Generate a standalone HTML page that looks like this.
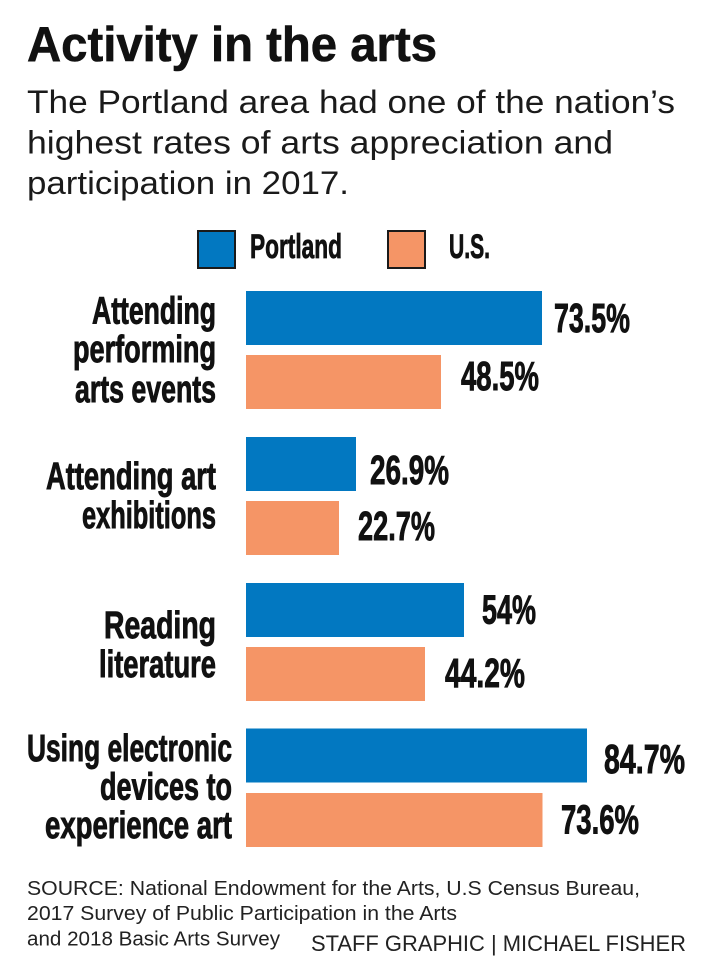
<!DOCTYPE html>
<html>
<head>
<meta charset="utf-8">
<style>
  html, body { margin: 0; padding: 0; background: #ffffff; }
  body { width: 702px; height: 965px; overflow: hidden; }
  svg { display: block; }
  .title { font-family: "Liberation Sans", sans-serif; font-weight: 700; font-size: 49px; fill: #111; stroke: #111; stroke-width: 0.6; }
  .sub { font-family: "Liberation Sans", sans-serif; font-weight: 400; font-size: 32px; fill: #1a1a1a; }
  .lab { font-family: "Liberation Sans", sans-serif; font-weight: 700; font-size: 38px; fill: #111; stroke: #111; stroke-width: 0.9; }
  .val { font-family: "Liberation Sans", sans-serif; font-weight: 700; font-size: 41px; fill: #111; stroke: #111; stroke-width: 0.9; }
  .leg { font-family: "Liberation Sans", sans-serif; font-weight: 700; font-size: 34px; fill: #111; stroke: #111; stroke-width: 0.8; }
  .src { font-family: "Liberation Sans", sans-serif; font-weight: 400; font-size: 20.5px; fill: #222; }
  .staff { font-family: "Liberation Sans", sans-serif; font-weight: 400; font-size: 22.5px; fill: #222; }
</style>
</head>
<body>
<svg width="702" height="965" viewBox="0 0 702 965" xmlns="http://www.w3.org/2000/svg">
  <rect x="0" y="0" width="702" height="965" fill="#ffffff"/>

  <!-- Title -->
  <text class="title" x="27" y="61" textLength="410" lengthAdjust="spacingAndGlyphs">Activity in the arts</text>

  <!-- Subtitle -->
  <text class="sub" x="27" y="113" textLength="648" lengthAdjust="spacingAndGlyphs">The Portland area had one of the nation’s</text>
  <text class="sub" x="27" y="153.5" textLength="586" lengthAdjust="spacingAndGlyphs">highest rates of arts appreciation and</text>
  <text class="sub" x="27" y="194" textLength="322" lengthAdjust="spacingAndGlyphs">participation in 2017.</text>

  <!-- Legend -->
  <rect x="198" y="231" width="37" height="37" fill="#0278c1" stroke="#1a1a1a" stroke-width="2"/>
  <text class="leg" x="250" y="258" textLength="92" lengthAdjust="spacingAndGlyphs">Portland</text>
  <rect x="388" y="231" width="37" height="37" fill="#f59566" stroke="#1a1a1a" stroke-width="2"/>
  <text class="leg" x="449" y="258" textLength="41" lengthAdjust="spacingAndGlyphs">U.S.</text>

  <!-- Bars -->
  <rect x="246" y="291" width="296" height="54" fill="#0278c1"/>
  <rect x="246" y="355" width="195" height="54" fill="#f59566"/>
  <rect x="246" y="437" width="110" height="54" fill="#0278c1"/>
  <rect x="246" y="501" width="93" height="54" fill="#f59566"/>
  <rect x="246" y="583" width="218" height="54" fill="#0278c1"/>
  <rect x="246" y="647" width="179" height="54" fill="#f59566"/>
  <rect x="246" y="728.5" width="341" height="54" fill="#0278c1"/>
  <rect x="246" y="793" width="296.5" height="54" fill="#f59566"/>

  <!-- Value labels -->
  <text class="val" x="554" y="332" textLength="76" lengthAdjust="spacingAndGlyphs">73.5%</text>
  <text class="val" x="461" y="390" textLength="78" lengthAdjust="spacingAndGlyphs">48.5%</text>
  <text class="val" x="370" y="484" textLength="79" lengthAdjust="spacingAndGlyphs">26.9%</text>
  <text class="val" x="358" y="540" textLength="77" lengthAdjust="spacingAndGlyphs">22.7%</text>
  <text class="val" x="482" y="623.5" textLength="54" lengthAdjust="spacingAndGlyphs">54%</text>
  <text class="val" x="445" y="687" textLength="80" lengthAdjust="spacingAndGlyphs">44.2%</text>
  <text class="val" x="604" y="773" textLength="81" lengthAdjust="spacingAndGlyphs">84.7%</text>
  <text class="val" x="561" y="833.5" textLength="78" lengthAdjust="spacingAndGlyphs">73.6%</text>

  <!-- Category labels -->
  <text class="lab" x="92" y="323.5" textLength="124" lengthAdjust="spacingAndGlyphs">Attending</text>
  <text class="lab" x="73" y="362" textLength="143" lengthAdjust="spacingAndGlyphs">performing</text>
  <text class="lab" x="75" y="402" textLength="141" lengthAdjust="spacingAndGlyphs">arts events</text>

  <text class="lab" x="46" y="489" textLength="170" lengthAdjust="spacingAndGlyphs">Attending art</text>
  <text class="lab" x="82" y="528" textLength="134" lengthAdjust="spacingAndGlyphs">exhibitions</text>

  <text class="lab" x="104" y="638" textLength="112" lengthAdjust="spacingAndGlyphs">Reading</text>
  <text class="lab" x="99" y="677" textLength="117" lengthAdjust="spacingAndGlyphs">literature</text>

  <text class="lab" x="27" y="761" textLength="205" lengthAdjust="spacingAndGlyphs">Using electronic</text>
  <text class="lab" x="100" y="799.5" textLength="132" lengthAdjust="spacingAndGlyphs">devices to</text>
  <text class="lab" x="45" y="838" textLength="187" lengthAdjust="spacingAndGlyphs">experience art</text>

  <!-- Footer -->
  <text class="src" x="27" y="895" textLength="613" lengthAdjust="spacingAndGlyphs">SOURCE: National Endowment for the Arts, U.S Census Bureau,</text>
  <text class="src" x="27" y="920" textLength="430" lengthAdjust="spacingAndGlyphs">2017 Survey of Public Participation in the Arts</text>
  <text class="src" x="27" y="945.5" textLength="253" lengthAdjust="spacingAndGlyphs">and 2018 Basic Arts Survey</text>
  <text class="staff" x="311" y="951" textLength="375" lengthAdjust="spacingAndGlyphs">STAFF GRAPHIC | MICHAEL FISHER</text>
</svg>
</body>
</html>
